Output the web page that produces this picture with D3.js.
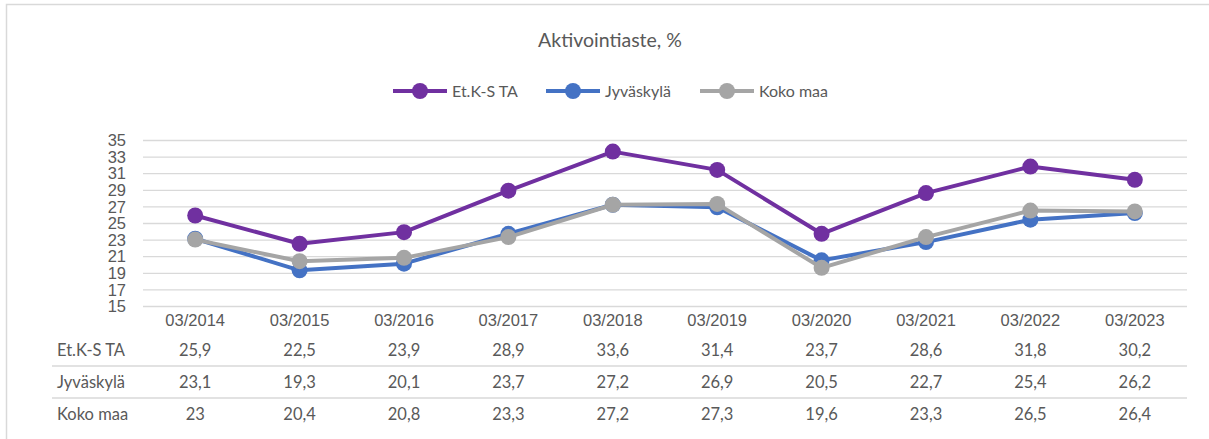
<!DOCTYPE html>
<meta charset="utf-8">
<script src="https://d3js.org/d3.v7.min.js"></script>
<style>
  body { margin: 0; background: #fff; }
  svg { font-family: Lato, "Liberation Sans", sans-serif; }
  .grid line { stroke: #d9d9d9; stroke-width: 1.3px; }
  .grid path { display: none; }
  .axis text { fill: #595959; font-size: 16.5px; }
  .axis line, .axis path { display: none; }
  .tbl text { fill: #595959; font-size: 16.5px; }
  .tbl line { stroke: #d9d9d9; stroke-width: 1.5px; }
</style>
<body></body>
<script>
  const categories = ["03/2014", "03/2015", "03/2016", "03/2017", "03/2018",
                      "03/2019", "03/2020", "03/2021", "03/2022", "03/2023"];
  const seriesNames = ["Et.K-S TA", "Jyväskylä", "Koko maa"];
  const etks = [25.9, 22.5, 23.9, 28.9, 33.6, 31.4, 23.7, 28.6, 31.8, 30.2];
  const jyvaskyla = [23.1, 19.3, 20.1, 23.7, 27.2, 26.9, 20.5, 22.7, 25.4, 26.2];
  const kokoMaa = [23, 20.4, 20.8, 23.3, 27.2, 27.3, 19.6, 23.3, 26.5, 26.4];
  const yTicks = [15, 17, 19, 21, 23, 25, 27, 29, 31, 33, 35];
  const colors = ["#7030a0", "#4472c4", "#a5a5a5"];

  const series = [etks, jyvaskyla, kokoMaa];

  const width = 1209, height = 439;
  const plot = {left: 143, right: 1187, top: 140, bottom: 306};

  const svg = d3.select("body").append("svg")
    .attr("width", width)
    .attr("height", height);

  // outer frame (cut off at right and bottom)
  svg.append("rect")
    .attr("x", 6.5).attr("y", 4.5)
    .attr("width", 1220).attr("height", 450)
    .attr("fill", "none")
    .attr("stroke", "#d9d9d9")
    .attr("stroke-width", 1.5);

  const x = d3.scaleBand()
    .domain(categories)
    .range([plot.left, plot.right]);

  const y = d3.scaleLinear()
    .domain([15, 35])
    .range([plot.bottom, plot.top]);

  // title
  svg.append("text")
    .attr("x", 610)
    .attr("y", 47)
    .attr("text-anchor", "middle")
    .attr("fill", "#595959")
    .style("font-size", "19.5px")
    .text("Aktivointiaste, %");

  // gridlines
  svg.append("g")
    .attr("class", "grid")
    .attr("transform", "translate(" + plot.left + ",0)")
    .call(d3.axisLeft(y).tickValues(yTicks).tickSize(-(plot.right - plot.left)).tickFormat(""));

  // y labels
  svg.append("g")
    .attr("class", "axis")
    .attr("transform", "translate(" + (plot.left - 17) + ",0)")
    .call(d3.axisLeft(y).tickValues(yTicks).tickSize(0).tickPadding(0))
    .selectAll("text").attr("dy", "0.35em");

  // category labels
  svg.append("g")
    .attr("class", "axis")
    .attr("transform", "translate(0," + plot.bottom + ")")
    .call(d3.axisBottom(x).tickSize(0).tickPadding(8));

  // lines and markers
  const line = d3.line()
    .x((d, i) => x(categories[i]) + x.bandwidth() / 2)
    .y(d => y(d));

  series.forEach(function(vals, s) {
    const g = svg.append("g");
    g.append("path")
      .attr("d", line(vals))
      .attr("fill", "none")
      .attr("stroke", colors[s])
      .attr("stroke-width", 4)
      .attr("stroke-linejoin", "round");
    g.selectAll("circle")
      .data(vals).enter().append("circle")
      .attr("cx", (d, i) => x(categories[i]) + x.bandwidth() / 2)
      .attr("cy", d => y(d))
      .attr("r", 8)
      .attr("fill", colors[s]);
  });

  // legend
  const legendX = [393, 546, 700];
  const legend = svg.append("g");
  seriesNames.forEach(function(name, s) {
    const lg = legend.append("g").attr("transform", "translate(" + legendX[s] + ",91)");
    lg.append("line").attr("x1", 0).attr("x2", 54)
      .attr("stroke", colors[s]).attr("stroke-width", 4);
    lg.append("circle").attr("cx", 27).attr("r", 8).attr("fill", colors[s]);
    lg.append("text").attr("x", 59).attr("dy", "0.35em")
      .attr("fill", "#595959").style("font-size", "16px").text(name);
  });

  // data table
  const tbl = svg.append("g").attr("class", "tbl");
  const rowY = [350, 382, 414];
  [366, 398].forEach(function(ly) {
    tbl.append("line").attr("x1", 52).attr("x2", plot.right).attr("y1", ly).attr("y2", ly);
  });
  series.forEach(function(vals, s) {
    tbl.append("text")
      .attr("x", 57).attr("y", rowY[s]).attr("dy", "0.35em")
      .text(seriesNames[s]);
    tbl.selectAll(null)
      .data(vals).enter().append("text")
      .attr("x", (d, i) => x(categories[i]) + x.bandwidth() / 2)
      .attr("y", rowY[s])
      .attr("dy", "0.35em")
      .attr("text-anchor", "middle")
      .text(d => String(d).replace(".", ","));
  });
</script>
